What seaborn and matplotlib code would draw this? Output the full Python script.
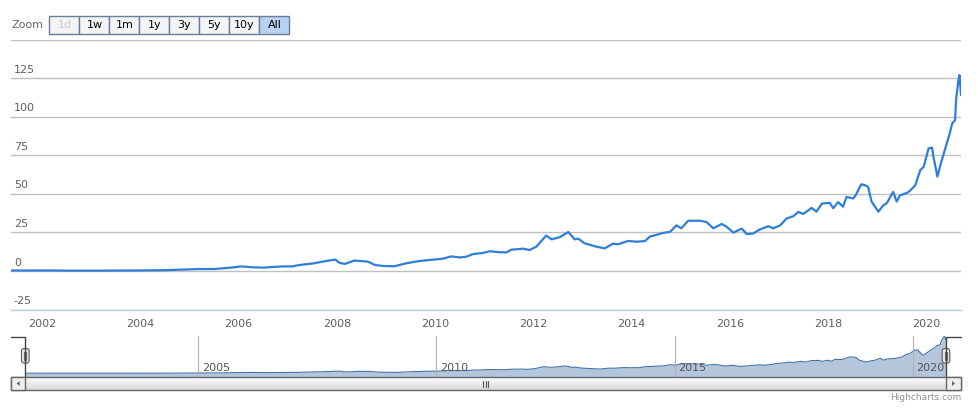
import numpy as np
import matplotlib
matplotlib.use("Agg")
import matplotlib.pyplot as plt
import seaborn as sns
from matplotlib.patches import Rectangle, FancyBboxPatch, Polygon

# ---------------- data ----------------
years = [2001.37, 2001.6, 2001.9, 2002.2, 2002.5, 2002.9, 2003.2, 2003.5, 2003.9,
         2004.2, 2004.5, 2004.8, 2005.0, 2005.2, 2005.5, 2005.7, 2005.9, 2006.05,
         2006.3, 2006.5, 2006.7, 2006.9, 2007.1, 2007.24, 2007.51, 2007.78, 2007.97,
         2008.05, 2008.16, 2008.36, 2008.5, 2008.63, 2008.77, 2008.9, 2009.0, 2009.17,
         2009.41, 2009.68, 2009.96, 2010.16, 2010.33, 2010.5, 2010.64, 2010.77, 2010.95,
         2011.11, 2011.31, 2011.45, 2011.55, 2011.79, 2011.92, 2012.06, 2012.26, 2012.37,
         2012.54, 2012.71, 2012.84, 2012.91, 2013.04, 2013.28, 2013.45, 2013.62, 2013.72,
         2013.93, 2014.1, 2014.27, 2014.37, 2014.64, 2014.78, 2014.91, 2015.01, 2015.15,
         2015.39, 2015.52, 2015.66, 2015.83, 2015.93, 2016.07, 2016.24, 2016.34, 2016.47,
         2016.61, 2016.78, 2016.88, 2017.02, 2017.15, 2017.29, 2017.39, 2017.49, 2017.66,
         2017.76, 2017.87, 2018.03, 2018.1, 2018.2, 2018.3, 2018.37, 2018.51, 2018.57,
         2018.67, 2018.75, 2018.81, 2018.88, 2018.95, 2019.02, 2019.12, 2019.19, 2019.32,
         2019.39, 2019.46, 2019.6, 2019.67, 2019.77, 2019.87, 2019.94, 2020.04, 2020.11,
         2020.14, 2020.22, 2020.29, 2020.38, 2020.47, 2020.52, 2020.58, 2020.6, 2020.65,
         2020.67, 2020.70]
prices = [0.35, 0.33, 0.35, 0.38, 0.25, 0.25, 0.24, 0.33, 0.35,
          0.45, 0.55, 0.9, 1.2, 1.3, 1.3, 1.8, 2.4, 3.0,
          2.4, 2.2, 2.6, 3.0, 3.0, 3.9, 4.9, 6.5, 7.4,
          5.4, 4.6, 6.8, 6.4, 6.1, 4.0, 3.4, 3.2, 3.1,
          5.0, 6.5, 7.4, 8.0, 9.5, 8.8, 9.3, 11.0, 11.6,
          12.8, 12.2, 12.1, 13.8, 14.5, 13.6, 15.8, 23.0, 20.5,
          22.0, 25.3, 20.5, 21.0, 18.0, 15.8, 14.7, 17.8, 17.3,
          19.5, 19.0, 19.4, 22.3, 24.7, 25.4, 29.6, 27.7, 32.6,
          32.6, 31.8, 27.7, 30.5, 28.7, 24.9, 27.5, 24.0, 24.3,
          27.0, 29.0, 27.7, 29.6, 34.0, 35.6, 38.3, 37.0, 40.9,
          38.5, 43.7, 44.2, 40.7, 44.7, 41.7, 48.0, 47.0, 49.9,
          56.2, 55.6, 54.6, 45.0, 41.7, 38.5, 42.6, 44.0, 51.3,
          45.0, 49.1, 50.6, 52.3, 55.6, 65.3, 67.5, 79.4, 80.0,
          74.0, 61.2, 69.7, 79.4, 89.1, 95.6, 97.8, 111.0, 124.5,
          127.0, 114.0]
x_ticks = [2002, 2004, 2006, 2008, 2010, 2012, 2014, 2016, 2018, 2020]
y_ticks = [-25, 0, 25, 50, 75, 100, 125]
nav_ticks = [2005, 2010, 2015, 2020]
buttons = ["1d", "1w", "1m", "1y", "3y", "5y", "10y", "All"]

# ---------------- figure ----------------
sns.set_style("white")
plt.rcParams['font.family'] = ['DejaVu Sans']
W, H = 979, 408
fig = plt.figure(figsize=(W / 100, H / 100), dpi=100)


def fax(x0, y0, x1, y1):
    """axes rect from pixel box (top-left origin)"""
    return [x0 / W, 1 - y1 / H, (x1 - x0) / W, (y1 - y0) / H]


LINE = "#2f7ed8"
GRID = "#C0C0C0"
AXC = "#C0D0E0"
LAB = "#606060"
xmin, xmax = years[0], years[-1]

# main chart
ax = fig.add_axes(fax(11, 39.6, 961, 309.6))
sns.lineplot(x=years, y=prices, ax=ax, color=LINE, linewidth=1.6)
ax.set_xlim(xmin, xmax)
ax.set_ylim(-25, 150)
for s in ["top", "left", "right"]:
    ax.spines[s].set_visible(False)
ax.spines["bottom"].set_color(AXC)
ax.spines["bottom"].set_linewidth(1)
ax.set_yticks(y_ticks + [150])
ax.set_yticklabels([])
ax.tick_params(axis="y", length=0)
ax.yaxis.grid(True, color=GRID, linewidth=1)
ax.set_axisbelow(True)
ax.set_xticks(x_ticks)
ax.set_xticklabels([str(t) for t in x_ticks])
ax.tick_params(axis="x", direction="out", length=5, width=1, color=AXC,
               labelsize=8, labelcolor=LAB, pad=1.5)
ax.set_xlabel("")
ax.set_ylabel("")
for t in y_ticks:
    ax.annotate(str(t), xy=(0, t), xycoords=("axes fraction", "data"),
                xytext=(2, 2.5), textcoords="offset points",
                ha="left", va="bottom", fontsize=8, color=LAB)

# navigator
nav = fig.add_axes(fax(25.3, 336, 946, 376.5))
nav.fill_between(years, prices, -11, color="#4572A7", alpha=0.4, linewidth=0)
sns.lineplot(x=years, y=prices, ax=nav, color="#4572A7", linewidth=0.8)
nav.set_xlim(xmin, xmax)
nav.set_ylim(-11, 128)
nav.set_xticks([])
nav.set_yticks([])
nav.set_xlabel("")
nav.set_ylabel("")
for s in nav.spines.values():
    s.set_visible(False)
for t in nav_ticks:
    nav.axvline(t, color="#B0B0B0", linewidth=0.8, zorder=3)
    nav.annotate(str(t), xy=(t, 0), xycoords=("data", "axes fraction"),
                 xytext=(2.5, 2.5), textcoords="offset points",
                 ha="left", va="bottom", fontsize=8, color="#555555", zorder=4)

# overlay in pixel coordinates
ov = fig.add_axes([0, 0, 1, 1], facecolor="none")
ov.set_xlim(0, W)
ov.set_ylim(H, 0)
ov.axis("off")

# zoom label + buttons
ov.text(12, 25, "Zoom", fontsize=8, color="#666666", ha="left", va="center")
bx0, bw, by0, bh = 49.5, 30, 15.5, 18
for i, b in enumerate(buttons):
    x0 = bx0 + i * bw
    sel = b == "All"
    fc = "#b9d2f2" if sel else "#f4f4f4"
    ov.add_patch(Rectangle((x0, by0), bw, bh, facecolor=fc, edgecolor="#6a7d9a",
                           linewidth=1))
    col = "#cccccc" if b == "1d" else "#000000"
    ov.text(x0 + bw / 2, by0 + bh / 2 + 0.5, b, fontsize=8, color=col,
            ha="center", va="center")

# navigator outline
OUT = "#444444"
ov.plot([11, 25.3, 25.3], [336.5, 336.5, 376.5], color=OUT, linewidth=1)
ov.plot([961, 946, 946], [336.5, 336.5, 376.5], color=OUT, linewidth=1)
for hx in (25.3, 946):
    ov.add_patch(FancyBboxPatch((hx - 3.8, 348.5), 7.6, 14.5,
                                boxstyle="round,pad=0,rounding_size=2.5",
                                facecolor="#ebe7e8", edgecolor="#666666", linewidth=0.9))
    ov.plot([hx - 1, hx - 1], [352, 359.5], color="#666666", linewidth=0.8)
    ov.plot([hx + 1, hx + 1], [352, 359.5], color="#666666", linewidth=0.8)

# scrollbar
sy0, sy1 = 377, 390
grad = np.linspace(1, 0, 32).reshape(-1, 1)
ov.imshow(grad, extent=(25.3, 946, sy1, sy0), cmap=matplotlib.colors.LinearSegmentedColormap.from_list(
    "g", ["#d8d8d8", "#ffffff"]), aspect="auto", zorder=1, interpolation="bilinear")
ov.set_xlim(0, W)
ov.set_ylim(H, 0)
ov.add_patch(Rectangle((11, sy0), 950, sy1 - sy0, facecolor="none", edgecolor="#666666",
                       linewidth=1, zorder=2))
for (x0, x1, d) in ((11, 25.3, -1), (946, 961, 1)):
    ov.add_patch(Rectangle((x0, sy0), x1 - x0, sy1 - sy0, facecolor="#eeeeee",
                           edgecolor="#666666", linewidth=1, zorder=3))
    cx = (x0 + x1) / 2
    cy = (sy0 + sy1) / 2
    ov.add_patch(Polygon([[cx - 1.5 * d, cy - 2.5], [cx - 1.5 * d, cy + 2.5], [cx + 1.5 * d, cy]],
                         closed=True, facecolor="#666666", edgecolor="none", zorder=4))
gx = (25.3 + 946) / 2
for dx in (-2.5, 0, 2.5):
    ov.plot([gx + dx, gx + dx], [380.5, 386.5], color="#555555", linewidth=0.8, zorder=4)

ov.text(961, 397, "Highcharts.com", fontsize=6.5, color="#909090", ha="right", va="center")

fig.savefig("out.png", dpi=100)
